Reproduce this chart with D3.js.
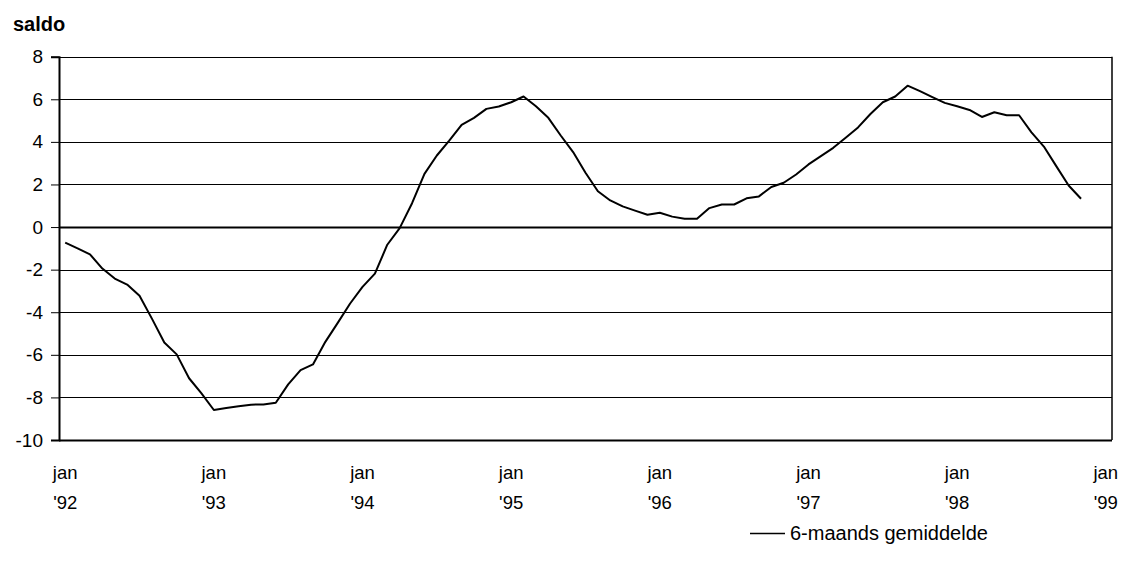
<!DOCTYPE html>
<html>
<head>
<meta charset="utf-8">
<script src="https://cdn.jsdelivr.net/npm/d3@7"></script>
<style>
  body { margin: 0; background: #fff; }
  #chart { width: 1122px; height: 570px; }
  text { font-family: Arial, "Liberation Sans", sans-serif; fill: #000; }
</style>
</head>
<body>
<div id="chart"></div>
<script>
// data: 6-month moving average, monthly jan '92 .. nov '98
const values = [
  -0.73, -1.0, -1.28, -1.95, -2.42, -2.70, -3.23, -4.3, -5.42, -5.98, -7.1, -7.81,
  -8.59, -8.5, -8.42, -8.34, -8.33, -8.25, -7.39, -6.72, -6.45, -5.39, -4.5, -3.59,
  -2.81, -2.19, -0.83, -0.05, 1.12, 2.5, 3.36, 4.06, 4.8, 5.13, 5.55, 5.66,
  5.86, 6.13, 5.67, 5.13, 4.3, 3.52, 2.55, 1.68, 1.25, 0.97, 0.77, 0.58,
  0.67, 0.49, 0.39, 0.39, 0.89, 1.06, 1.06, 1.35, 1.44, 1.88, 2.08, 2.47,
  2.94, 3.33, 3.72, 4.19, 4.68, 5.31, 5.86, 6.13, 6.64, 6.38, 6.1, 5.83,
  5.67, 5.5, 5.17, 5.39, 5.25, 5.25, 4.45, 3.78, 2.86, 1.95, 1.33
];
const years = ["'92", "'93", "'94", "'95", "'96", "'97", "'98", "'99"];
const yTicks = [-10, -8, -6, -4, -2, 0, 2, 4, 6, 8];
const seriesName = "6-maands gemiddelde";

// 85 monthly slots: jan '92 .. jan '99
const months = d3.range(85);

const width = 1122;
const height = 570;

const svg = d3.select("#chart")
    .append("svg")
    .attr("width", width)
    .attr("height", height);

const margin = { top: 56.7, left: 59, right: 10, bottom: 130 };

const xScale = d3.scaleBand()
    .domain(months)
    .range([margin.left, width - margin.right]);

const yScale = d3.scaleLinear()
    .domain([-10, 8])
    .range([height - margin.bottom, margin.top]);

// gridlines
svg.append("g")
    .selectAll("line")
    .data(yTicks)
    .enter()
    .append("line")
        .attr("x1", margin.left)
        .attr("x2", width - margin.right)
        .attr("y1", d => Math.round(yScale(d)) + 0.5)
        .attr("y2", d => Math.round(yScale(d)) + 0.5)
        .attr("stroke", "#000")
        .attr("stroke-width", d => (d === 0 || d === -10) ? 2 : 1);

// right border
svg.append("line")
    .attr("x1", width - margin.right)
    .attr("x2", width - margin.right)
    .attr("y1", yScale(8))
    .attr("y2", yScale(-10))
    .attr("stroke", "#000")
    .attr("stroke-width", 1.5);

// y axis (plain hyphen for negatives, like the original)
const yAxis = svg.append("g")
    .attr("transform", `translate(${margin.left},0)`)
    .call(d3.axisLeft(yScale).tickValues(yTicks).tickSize(8).tickPadding(8).tickFormat(d => String(d)));
yAxis.select(".domain").attr("stroke", "#000").attr("stroke-width", 2);
yAxis.selectAll(".tick line").attr("stroke", "#000");
yAxis.selectAll("text")
    .attr("font-size", 19)
    .style("font-family", "Arial, 'Liberation Sans', sans-serif");

// x axis labels: jan / 'yy every 12 months
const xLabels = svg.append("g");
xLabels.selectAll("text")
    .data(years)
    .enter()
    .append("text")
        .attr("x", (d, i) => xScale(i * 12) + xScale.bandwidth() / 2)
        .attr("y", 479)
        .attr("text-anchor", "middle")
        .attr("font-size", 18.5)
        .each(function(d) {
            const t = d3.select(this);
            t.append("tspan").text("jan");
            t.append("tspan")
                .attr("x", t.attr("x"))
                .attr("dy", 29.5)
                .text(d);
        });

// the line
const line = d3.line()
    .x((d, i) => xScale(i) + xScale.bandwidth() / 2)
    .y(d => yScale(d));

svg.append("path")
    .datum(values)
    .attr("d", line)
    .attr("fill", "none")
    .attr("stroke", "#000")
    .attr("stroke-width", 2)
    .attr("stroke-linejoin", "round");

// axis title
svg.append("text")
    .attr("x", 13)
    .attr("y", 31)
    .attr("font-size", 20)
    .attr("font-weight", "bold")
    .text("saldo");

// legend
svg.append("line")
    .attr("x1", 750)
    .attr("x2", 785)
    .attr("y1", 533.5)
    .attr("y2", 533.5)
    .attr("stroke", "#000")
    .attr("stroke-width", 1.5);

svg.append("text")
    .attr("x", 790)
    .attr("y", 540)
    .attr("font-size", 20)
    .text(seriesName);
</script>
</body>
</html>
